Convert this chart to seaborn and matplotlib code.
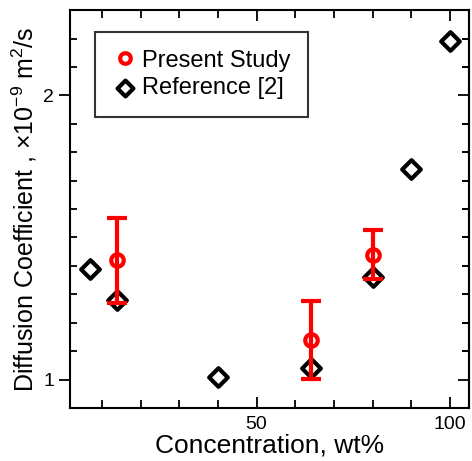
import numpy as np
import pandas as pd
import matplotlib
matplotlib.use("Agg")
import matplotlib.pyplot as plt
from matplotlib.ticker import MultipleLocator
import seaborn as sns

# Reference [2] data
ref_conc = [7, 14, 40, 64, 80, 90, 100]
ref_diff = [1.39, 1.28, 1.01, 1.04, 1.36, 1.74, 2.19]

# Present study data
pres_conc = [14, 64, 80]
pres_diff = [1.42, 1.14, 1.44]
pres_err = [0.15, 0.137, 0.085]

sns.set_style("ticks")
plt.rcParams['font.family'] = ['Liberation Sans', 'DejaVu Sans']
plt.rcParams['mathtext.fontset'] = 'custom'
plt.rcParams['mathtext.rm'] = 'Liberation Sans'
plt.rcParams['text.color'] = 'black'
plt.rcParams['axes.labelcolor'] = 'black'
plt.rcParams['xtick.color'] = 'black'
plt.rcParams['ytick.color'] = 'black'

ref_df = pd.DataFrame({"conc": ref_conc, "diff": ref_diff})

fig = plt.figure(figsize=(4.72, 4.61), dpi=100)
ax = fig.add_axes([0.148, 0.115, 0.846, 0.863])

sns.scatterplot(data=ref_df, x="conc", y="diff", marker='D', s=90,
                facecolor='white', edgecolor='black', linewidth=3,
                ax=ax, zorder=2, label="Reference [2]")
ax.plot(pres_conc, pres_diff, 'o', ms=9, mfc='white', mec='red', mew=3,
        zorder=3, label="Present Study")
ax.errorbar(pres_conc, pres_diff, yerr=pres_err, fmt='none', ecolor='red',
            elinewidth=3, capsize=7, capthick=3, zorder=4)

ax.set_xlim(1.7, 105)
ax.set_ylim(0.9, 2.3)
ax.xaxis.set_major_locator(MultipleLocator(50))
ax.xaxis.set_minor_locator(MultipleLocator(10))
ax.yaxis.set_major_locator(MultipleLocator(1))
ax.yaxis.set_minor_locator(MultipleLocator(0.1))

ax.tick_params(axis='x', which='both', direction='in', top=True, labelsize=14,
               width=1.3, pad=6)
ax.tick_params(axis='x', which='major', length=8)
ax.tick_params(axis='x', which='minor', length=6)
ax.tick_params(axis='y', which='major', direction='out', length=8, width=1.3,
               labelsize=14)
ax.tick_params(axis='y', which='minor', direction='in', right=True, length=5,
               width=1.3)

sec = ax.secondary_yaxis('right')
sec.yaxis.set_major_locator(MultipleLocator(1))
sec.yaxis.set_minor_locator(MultipleLocator(0.1))
sec.tick_params(which='both', direction='in', labelright=False, width=1.3)
sec.tick_params(which='major', length=8)
sec.tick_params(which='minor', length=5)
sec.spines['right'].set_linewidth(1.5)

for s in ax.spines.values():
    s.set_linewidth(1.5)
    s.set_color('black')

ax.set_xlabel("Concentration, wt%", fontsize=19, labelpad=0)
ax.set_ylabel(r"Diffusion Coefficient , $\times$10$^{-9}$ m$^{2}$/s",
              fontsize=18, labelpad=3)

handles, labels = ax.get_legend_handles_labels()
order = [labels.index("Present Study"), labels.index("Reference [2]")]
leg = ax.legend([handles[i] for i in order], [labels[i] for i in order],
                loc='upper left', bbox_to_anchor=(0.063, 0.945), fontsize=17,
                frameon=True, fancybox=False, edgecolor='black',
                borderaxespad=0, handletextpad=0.25, borderpad=0.75,
                labelspacing=0.22, handlelength=1.0, markerscale=0.85)
leg.get_frame().set_linewidth(1.5)

fig.savefig("out.png", dpi=100)
